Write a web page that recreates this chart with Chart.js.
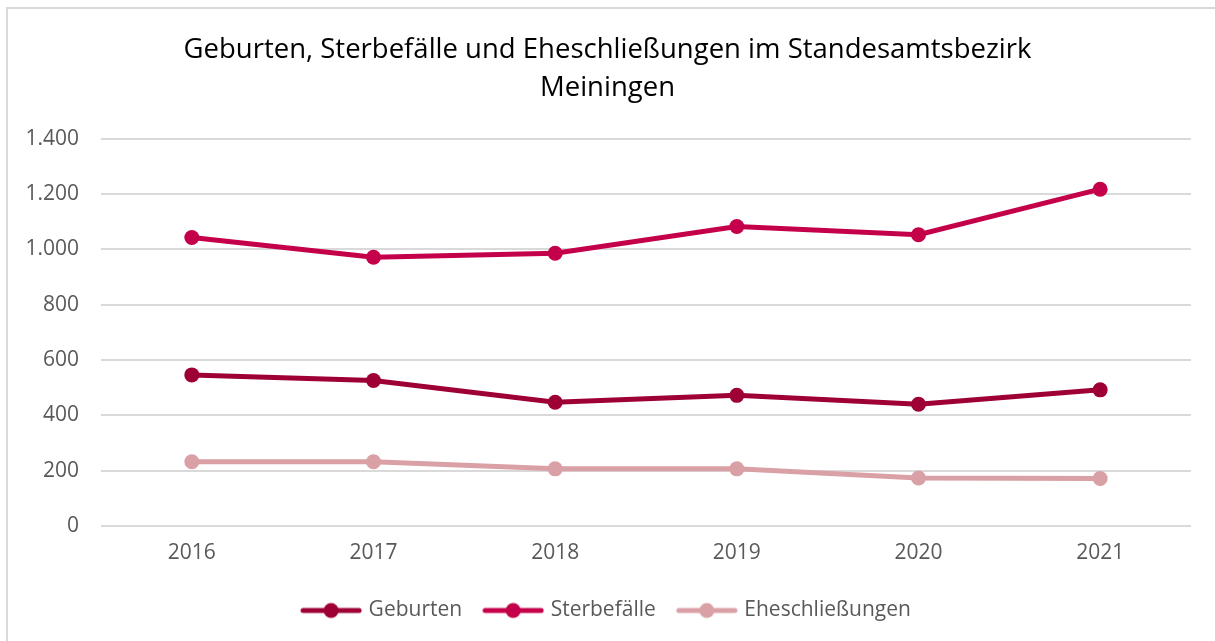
<!DOCTYPE html>
<html>
<head>
<meta charset="utf-8">
<script src="https://cdn.jsdelivr.net/npm/chart.js@4"></script>
<style>
  html, body { margin: 0; padding: 0; background: #fff; }
  #wrap { position: relative; width: 1215px; height: 641px; overflow: hidden; }
  #frame { position: absolute; left: 6px; top: 7px; width: 1230px; height: 660px; border: 2px solid #d9d9d9; box-sizing: border-box; }
  canvas { position: absolute; left: 0; top: 0; }
</style>
</head>
<body>
<div id="wrap">
  <div id="frame"></div>
  <canvas id="c" width="1215" height="641"></canvas>
</div>
<script>
const categories = ['2016', '2017', '2018', '2019', '2020', '2021'];
const geburten = [546, 526, 447, 472, 440, 492];
const sterbefaelle = [1043, 972, 986, 1083, 1053, 1218];
const eheschliessungen = [232, 232, 206, 206, 173, 171];
const seriesNames = ['Geburten', 'Sterbefälle', 'Eheschließungen'];
const seriesColors = ['#9e0036', '#c5004a', '#d9a0a6'];
const yTicks = [0, 200, 400, 600, 800, 1000, 1200, 1400];

function legendIcon(color) {
  const cv = document.createElement('canvas');
  cv.width = 62; cv.height = 18;
  const g = cv.getContext('2d');
  g.strokeStyle = color; g.lineWidth = 5; g.lineCap = 'round';
  g.beginPath(); g.moveTo(3, 9); g.lineTo(59, 9); g.stroke();
  g.fillStyle = color;
  g.beginPath(); g.arc(31, 9, 7.5, 0, Math.PI * 2); g.fill();
  return cv;
}
const icons = seriesColors.map(legendIcon);

const FONT = "'Open Sans', sans-serif";
const seriesData = [geburten, sterbefaelle, eheschliessungen];

new Chart(document.getElementById('c'), {
  type: 'line',
  data: {
    labels: categories,
    datasets: seriesData.map((d, i) => ({
      label: seriesNames[i],
      data: d,
      borderColor: seriesColors[i],
      backgroundColor: seriesColors[i],
      borderWidth: 5,
      pointRadius: 7.5,
      pointHoverRadius: 7.5,
      pointBorderWidth: 0,
      tension: 0,
      pointStyle: 'circle'
    }))
  },
  options: {
    responsive: false,
    animation: false,
    devicePixelRatio: 1,
    layout: { padding: { left: 24, right: 24, top: 14, bottom: 10 } },
    plugins: {
      title: {
        display: true,
        text: ['Geburten, Sterbefälle und Eheschließungen im Standesamtsbezirk', 'Meiningen'],
        color: '#000',
        font: { family: FONT, size: 27.5, weight: 'normal', lineHeight: 1.38 },
        padding: { top: 17, bottom: 32 }
      },
      legend: {
        position: 'bottom',
        labels: {
          usePointStyle: true,
          pointStyleWidth: 54,
          color: '#595959',
          font: { family: FONT, size: 21 },
          padding: 24,
          generateLabels: (chart) => seriesNames.map((n, i) => ({
            text: n,
            pointStyle: icons[i],
            fillStyle: seriesColors[i],
            strokeStyle: seriesColors[i],
            lineWidth: 0,
            hidden: false,
            datasetIndex: i,
            fontColor: '#595959'
          }))
        }
      },
      tooltip: { enabled: false }
    },
    scales: {
      x: {
        offset: true,
        afterFit: (s) => { s.height -= 5; },
        grid: { display: false, drawTicks: false },
        border: { display: false },
        ticks: { color: '#595959', font: { family: FONT, size: 21 }, padding: 15 }
      },
      y: {
        min: 0, max: 1400,
        afterBuildTicks: (s) => { s.ticks = yTicks.map(v => ({ value: v })); },
        afterFit: (s) => { s.width = 77; },
        grid: { color: '#d9d9d9', lineWidth: 2, drawTicks: false },
        border: { display: false },
        ticks: {
          color: '#595959', font: { family: FONT, size: 21 }, padding: 22,
          callback: (v) => v.toLocaleString('de-DE')
        }
      }
    }
  }
});
</script>
</body>
</html>
